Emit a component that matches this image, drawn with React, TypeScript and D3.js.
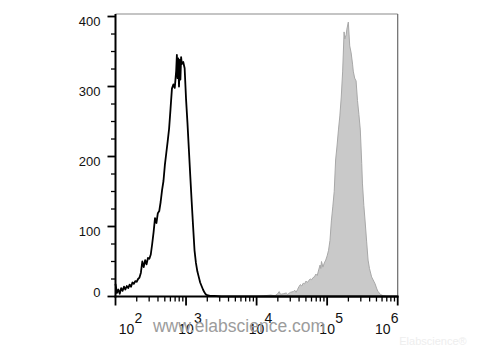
import React from "react";
import * as d3 from "d3";

// Histogram channels: log10 of fluorescence intensity
const isotypeExp = [2.00, 2.02, 2.04, 2.06, 2.08, 2.10, 2.12, 2.14, 2.16, 2.18, 2.20, 2.22, 2.24, 2.26, 2.28, 2.30, 2.32, 2.34, 2.36, 2.38, 2.40, 2.42, 2.44, 2.46, 2.48, 2.50, 2.52, 2.54, 2.56, 2.58, 2.60, 2.62, 2.64, 2.66, 2.68, 2.70, 2.72, 2.74, 2.76, 2.78, 2.80, 2.82, 2.84, 2.86, 2.87, 2.88, 2.89, 2.90, 2.91, 2.92, 2.93, 2.94, 2.96, 2.98, 3.00, 3.02, 3.04, 3.06, 3.08, 3.10, 3.12, 3.14, 3.16, 3.18, 3.20, 3.22, 3.24, 3.26, 3.28, 3.30, 3.34, 3.40, 3.50, 4.00, 5.00, 6.00];
const isotypeCount = [18, 5, 10, 4, 12, 8, 14, 10, 15, 12, 17, 14, 20, 18, 22, 21, 25, 27, 34, 50, 42, 52, 46, 55, 54, 60, 75, 92, 112, 105, 119, 122, 135, 152, 165, 188, 205, 222, 240, 268, 297, 303, 298, 322, 345, 312, 340, 300, 338, 310, 342, 332, 335, 326, 282, 248, 210, 172, 135, 100, 66, 48, 36, 28, 20, 15, 10, 6, 3, 2, 1, 1, 0, 0, 0, 0];

const stainedExp = [2.00, 3.00, 4.00, 4.10, 4.20, 4.26, 4.30, 4.32, 4.34, 4.38, 4.42, 4.44, 4.48, 4.52, 4.54, 4.56, 4.58, 4.60, 4.62, 4.64, 4.66, 4.68, 4.70, 4.72, 4.74, 4.76, 4.78, 4.80, 4.82, 4.84, 4.86, 4.88, 4.90, 4.91, 4.92, 4.94, 4.96, 4.98, 5.00, 5.02, 5.04, 5.06, 5.08, 5.10, 5.12, 5.14, 5.16, 5.18, 5.20, 5.22, 5.24, 5.25, 5.27, 5.28, 5.30, 5.31, 5.32, 5.34, 5.36, 5.37, 5.39, 5.41, 5.43, 5.45, 5.47, 5.49, 5.50, 5.52, 5.54, 5.56, 5.58, 5.60, 5.63, 5.66, 5.68, 5.70, 5.72, 5.75, 5.77, 5.80, 5.85, 6.00];
const stainedCount = [0, 0, 0, 1, 2, 1, 4, 7, 3, 4, 5, 3, 6, 7, 9, 6, 10, 14, 17, 15, 19, 18, 22, 20, 23, 25, 24, 27, 28, 32, 30, 38, 45, 40, 50, 42, 48, 52, 58, 66, 80, 108, 128, 150, 195, 215, 238, 258, 285, 322, 378, 368, 374, 382, 392, 375, 358, 348, 332, 322, 312, 308, 280, 260, 238, 190, 162, 130, 105, 78, 52, 40, 28, 22, 18, 12, 7, 4, 2, 1, 0, 0];

const yTicks = [0, 100, 200, 300, 400];
const yMinorTicks = [25, 50, 75, 125, 150, 175, 225, 250, 275, 325, 350, 375];
const xDecades = [2, 3, 4, 5, 6];
const xMinorMultipliers = [2, 3, 4, 5, 6, 7, 8, 9];

const W = 480;
const H = 360;
const left = 115.5;
const right = 397.7;
const bottom = 296.5;
const top = 14;

export default function App() {
  const x = d3.scaleLog().domain([1e2, 1e6]).range([left, right]);
  const y = d3.scaleLinear().domain([0, 403.6]).range([bottom, top]);

  const iso = isotypeExp.map((e, i) => [Math.pow(10, e), isotypeCount[i]] as [number, number]);
  const st = stainedExp.map((e, i) => [Math.pow(10, e), stainedCount[i]] as [number, number]);

  const line = d3.line<[number, number]>().x((d) => x(d[0])).y((d) => y(d[1]));
  const area = d3
    .area<[number, number]>()
    .x((d) => x(d[0]))
    .y0(y(0))
    .y1((d) => y(d[1]));

  const minorX: number[] = [];
  xDecades.slice(0, -1).forEach((k) => xMinorMultipliers.forEach((m) => minorX.push(m * Math.pow(10, k))));

  const font = "'Liberation Sans', Arial, sans-serif";

  const labelShift = (k: number) => (k === 2 ? 11 : k === 6 ? -15 : 0);

  return (
    <svg width={W} height={H} style={{ position: "absolute", left: 0, top: 0 }} fontFamily={font}>
      <rect width={W} height={H} fill="#fff" />
      {/* frame */}
      <line x1={left} x2={right} y1={top} y2={top} stroke="#8a8a8a" strokeWidth={1.2} />
      <line x1={right} x2={right} y1={top} y2={bottom} stroke="#6a6a6a" strokeWidth={1.2} />

      {/* stained histogram */}
      <path d={area(st) || ""} fill="#c9c9c9" stroke="#a8a8a8" strokeWidth={1} />

      {/* axes */}
      <line x1={left} x2={left} y1={top} y2={bottom + 1} stroke="#000" strokeWidth={2} />
      <line x1={left - 1} x2={right + 1} y1={bottom} y2={bottom} stroke="#000" strokeWidth={2} />

      {/* isotype histogram */}
      <path d={line(iso) || ""} fill="none" stroke="#000" strokeWidth={1.8} strokeLinejoin="round" />

      {/* y ticks */}
      {yTicks.map((t) => (
        <g key={"y" + t}>
          <line x1={left - 8} x2={left} y1={y(t)} y2={y(t)} stroke="#000" strokeWidth={1.8} />
          <text
            x={100.5}
            y={t === 0 ? y(t) : y(t) + 9.5}
            textAnchor="end"
            fontSize={13}
            fill="#111"
          >
            {t}
          </text>
        </g>
      ))}
      {yMinorTicks.map((t) => (
        <line key={"ym" + t} x1={left - 4.5} x2={left} y1={y(t)} y2={y(t)} stroke="#000" strokeWidth={1.3} />
      ))}

      {/* x ticks */}
      {xDecades.map((k) => (
        <g key={"x" + k}>
          <line x1={x(Math.pow(10, k))} x2={x(Math.pow(10, k))} y1={bottom} y2={bottom + 9} stroke="#000" strokeWidth={1.8} />
          <text x={x(Math.pow(10, k)) + labelShift(k)} y={334} textAnchor="middle" fontSize={14} fill="#111">
            10
          </text>
          <text x={x(Math.pow(10, k)) + labelShift(k) + 8} y={323} textAnchor="start" fontSize={14} fill="#111">
            {k}
          </text>
        </g>
      ))}
      {minorX.map((v, i) => (
        <line key={"xm" + i} x1={x(v)} x2={x(v)} y1={bottom} y2={bottom + 5} stroke="#000" strokeWidth={1.3} />
      ))}

      {/* watermarks */}
      <text x={239} y={331.5} textAnchor="middle" fontSize={17.5} fill="#9c9c9c">
        www.elabscience.com
      </text>
      <text x={433} y={345} textAnchor="middle" fontSize={11} fill="#eeeeee">
        Elabscience®
      </text>
    </svg>
  );
}
